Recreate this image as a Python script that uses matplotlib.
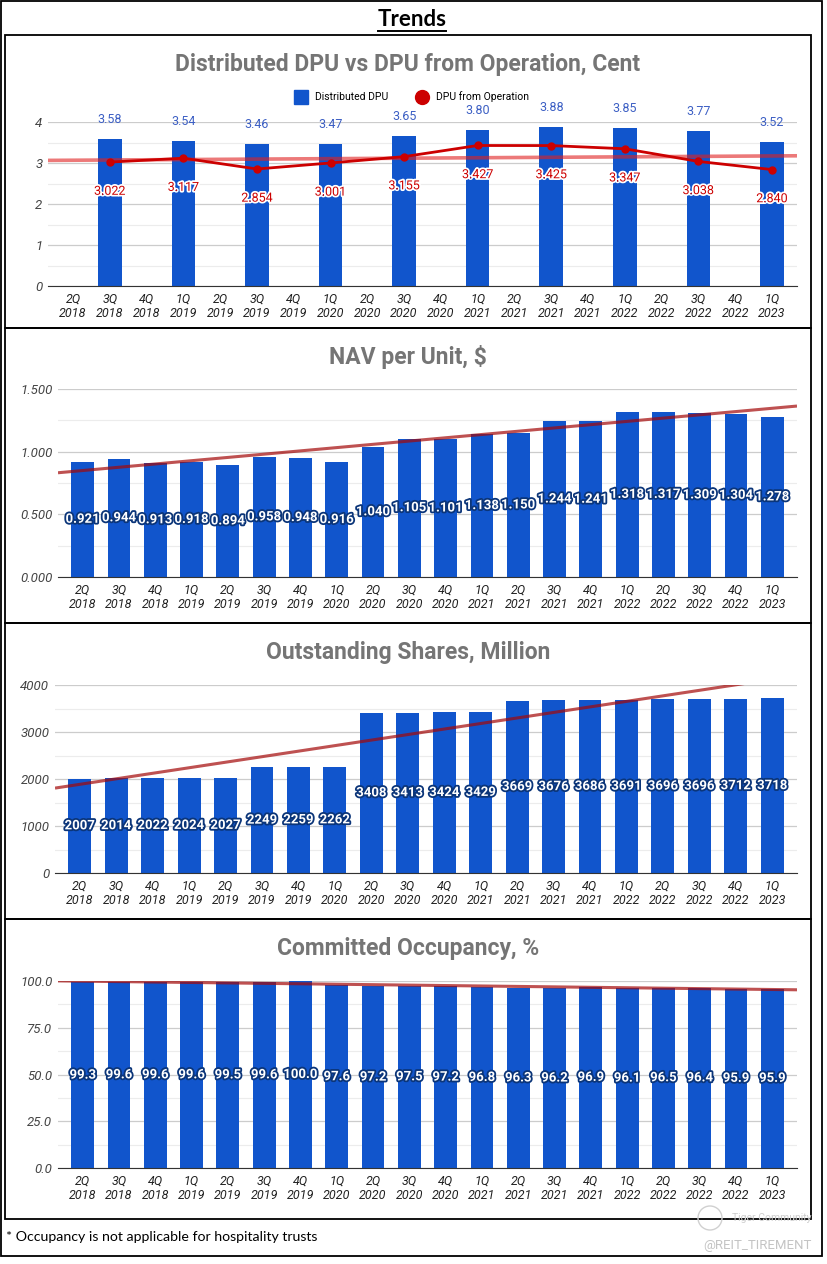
import numpy as np
import matplotlib
matplotlib.use("Agg")
import matplotlib.pyplot as plt
import matplotlib.patheffects as pe
from matplotlib.patches import Rectangle, Circle
from matplotlib.lines import Line2D

plt.rcParams['font.family'] = ['Roboto', 'DejaVu Sans']

# data
quarters = ['2Q\n2018', '3Q\n2018', '4Q\n2018', '1Q\n2019', '2Q\n2019', '3Q\n2019', '4Q\n2019',
            '1Q\n2020', '2Q\n2020', '3Q\n2020', '4Q\n2020', '1Q\n2021', '2Q\n2021', '3Q\n2021',
            '4Q\n2021', '1Q\n2022', '2Q\n2022', '3Q\n2022', '4Q\n2022', '1Q\n2023']
dpu_quarters = ['3Q\n2018', '1Q\n2019', '3Q\n2019', '1Q\n2020', '3Q\n2020', '1Q\n2021',
                '3Q\n2021', '1Q\n2022', '3Q\n2022', '1Q\n2023']
dpu_distributed = [3.58, 3.54, 3.46, 3.47, 3.65, 3.80, 3.88, 3.85, 3.77, 3.52]
dpu_operation = [3.022, 3.117, 2.854, 3.001, 3.155, 3.427, 3.425, 3.347, 3.038, 2.840]
nav = [0.921, 0.944, 0.913, 0.918, 0.894, 0.958, 0.948, 0.916, 1.040, 1.105,
       1.101, 1.138, 1.150, 1.244, 1.241, 1.318, 1.317, 1.309, 1.304, 1.278]
shares = [2007, 2014, 2022, 2024, 2027, 2249, 2259, 2262, 3408, 3413,
          3424, 3429, 3669, 3676, 3686, 3691, 3696, 3696, 3712, 3718]
occupancy = [99.3, 99.6, 99.6, 99.6, 99.5, 99.6, 100.0, 97.6, 97.2, 97.5,
             97.2, 96.8, 96.3, 96.2, 96.9, 96.1, 96.5, 96.4, 95.9, 95.9]

W, H = 828, 1264
BLUE = '#1155cc'
RED = '#cc0000'
XLIM = (-0.68, 19.68)

fig = plt.figure(figsize=(W / 100, H / 100), dpi=100)


def rect(l, t, r, b):
    return [l / W, 1 - b / H, (r - l) / W, (b - t) / H]


def box(l, t, r, b, lw=1.3):
    fig.patches.append(Rectangle((l / W, 1 - b / H), (r - l) / W, (b - t) / H,
                                 transform=fig.transFigure, fill=False,
                                 edgecolor='black', linewidth=lw))


def style(ax, ylim, major, minor, fmt):
    ax.set_xlim(*XLIM)
    ax.set_ylim(*ylim)
    ax.set_yticks(np.arange(ylim[0], ylim[1] + major / 2, major))
    ax.set_yticks(np.arange(ylim[0], ylim[1] + minor / 2, minor), minor=True)
    ax.set_yticklabels([fmt.format(v) for v in ax.get_yticks()])
    ax.grid(axis='y', which='major', color='#cccccc', linewidth=0.9, zorder=0)
    ax.grid(axis='y', which='minor', color='#ececec', linewidth=0.8, zorder=0)
    ax.set_axisbelow(True)
    for s in ['left', 'right', 'top']:
        ax.spines[s].set_visible(False)
    ax.spines['bottom'].set_color('#333333')
    ax.tick_params(axis='both', which='both', length=0)
    ax.tick_params(axis='y', pad=4, labelsize=9.5, labelcolor='#444444')
    ax.tick_params(axis='x', pad=5, labelsize=9, labelcolor='#222222')
    for t in ax.get_yticklabels() + ax.get_xticklabels():
        t.set_fontstyle('italic')
        t.set_linespacing(1.1)


def trend(ax, xs, ys, color, alpha, lw):
    k, c = np.polyfit(xs, ys, 1)
    xx = np.array(XLIM)
    ax.plot(xx, k * xx + c, color=color, alpha=alpha, linewidth=lw, zorder=3, solid_capstyle='butt')


def inner_labels(ax, x, vals, fmt):
    for xi, v in zip(x, vals):
        ax.text(xi, v / 2, fmt.format(v), ha='center', va='center', color='white',
                fontsize=9.5, fontweight='bold', zorder=6,
                path_effects=[pe.Stroke(linewidth=2.6, foreground='#0b3579'),
                              pe.Normal()])


x = np.arange(len(quarters))

# outer frame and title
box(1, 1, 822, 1256)
fig.text(412 / W, 1 - 20 / H, 'Trends', ha='center', va='center', fontsize=16,
         fontweight='bold', family=['Lato', 'DejaVu Sans'], color='black')
fig.lines.append(Line2D([378 / W, 446 / W], [1 - 31 / H, 1 - 31 / H],
                        transform=fig.transFigure, color='black', linewidth=1.4))

panels = [(35, 328), (328, 623), (623, 919), (919, 1219)]
for t, b in panels:
    box(5, t, 811, b)

titles = ['Distributed DPU vs DPU from Operation, Cent', 'NAV per Unit, $',
          'Outstanding Shares, Million', 'Committed Occupancy, %']
title_y = [65, 357, 653, 948]
for tt, ty in zip(titles, title_y):
    fig.text(408 / W, 1 - ty / H, tt, ha='center', va='center', fontsize=16.5,
             fontweight='bold', color='#757575')

# panel 1: DPU
ax1 = fig.add_axes(rect(48, 122, 797, 286))
pos = [quarters.index(q) for q in dpu_quarters]
ax1.bar(pos, dpu_distributed, width=0.64, color=BLUE, zorder=2)
trend(ax1, pos, dpu_operation, '#e02020', 0.6, 2.6)
ax1.plot(pos, dpu_operation, color=RED, linewidth=2, marker='o', markersize=5, zorder=4)
for p, v in zip(pos, dpu_distributed):
    ax1.annotate('{:.2f}'.format(v), (p, v), xytext=(0, 14), textcoords='offset points',
                 ha='center', va='center', fontsize=9, color='#3c5fc4', zorder=6,
                 annotation_clip=False)
for p, v in zip(pos, dpu_operation):
    ax1.annotate('{:.3f}'.format(v), (p, v), xytext=(0, -21), textcoords='offset points',
                 ha='center', va='center', fontsize=9, color=RED, zorder=6,
                 path_effects=[pe.Stroke(linewidth=2.5, foreground='white'), pe.Normal()])
ax1.set_xticks(x)
ax1.set_xticklabels(quarters)
style(ax1, (0, 4), 1, 0.5, '{:.0f}')
handles = [Line2D([], [], marker='s', linestyle='none', color=BLUE, markersize=10),
           Line2D([], [], marker='o', linestyle='none', color=RED, markersize=10)]
ax1.legend(handles, ['Distributed DPU', 'DPU from Operation'], ncol=2, frameon=False,
           loc='center', bbox_to_anchor=(0.483, 1.153), fontsize=7.5, handletextpad=0.4,
           columnspacing=2.2, borderaxespad=0)

# panel 2: NAV
ax2 = fig.add_axes(rect(58, 389, 797, 577))
ax2.bar(x, nav, width=0.63, color=BLUE, zorder=2)
trend(ax2, x, nav, '#a30707', 0.7, 2.2)
inner_labels(ax2, x, nav, '{:.3f}')
ax2.set_xticks(x)
ax2.set_xticklabels(quarters)
style(ax2, (0, 1.5), 0.5, 0.25, '{:.3f}')

# panel 3: shares
ax3 = fig.add_axes(rect(55, 685, 797, 873))
ax3.bar(x, shares, width=0.63, color=BLUE, zorder=2)
trend(ax3, x, shares, '#a30707', 0.7, 2.2)
inner_labels(ax3, x, shares, '{:d}')
ax3.set_xticks(x)
ax3.set_xticklabels(quarters)
style(ax3, (0, 4000), 1000, 500, '{:.0f}')

# panel 4: occupancy
ax4 = fig.add_axes(rect(58, 981, 797, 1168))
ax4.bar(x, occupancy, width=0.63, color=BLUE, zorder=2)
trend(ax4, x, occupancy, '#a30707', 0.7, 2.2)
inner_labels(ax4, x, occupancy, '{:.1f}')
ax4.set_xticks(x)
ax4.set_xticklabels(quarters)
style(ax4, (0, 100), 25, 12.5, '{:.1f}')

# footnote and watermark
fig.text(6 / W, 1 - 1237 / H, '* Occupancy is not applicable for hospitality trusts',
         ha='left', va='center', fontsize=10.2, family=['Lato', 'DejaVu Sans'], color='black')
fig.patches.append(Circle((7.10, (H - 1218) / 100), 0.12, transform=fig.dpi_scale_trans,
                          fill=False, edgecolor='#d0d0d0', linewidth=1))
fig.text(812 / W, 1 - 1218 / H, 'Tiger Community', ha='right', va='center', fontsize=7.5,
         color='#cfcfcf')
fig.text(812 / W, 1 - 1246 / H, '@REIT_TIREMENT', ha='right', va='center', fontsize=9.5,
         color='#c4c4c4')

fig.savefig('out.png', dpi=100)
